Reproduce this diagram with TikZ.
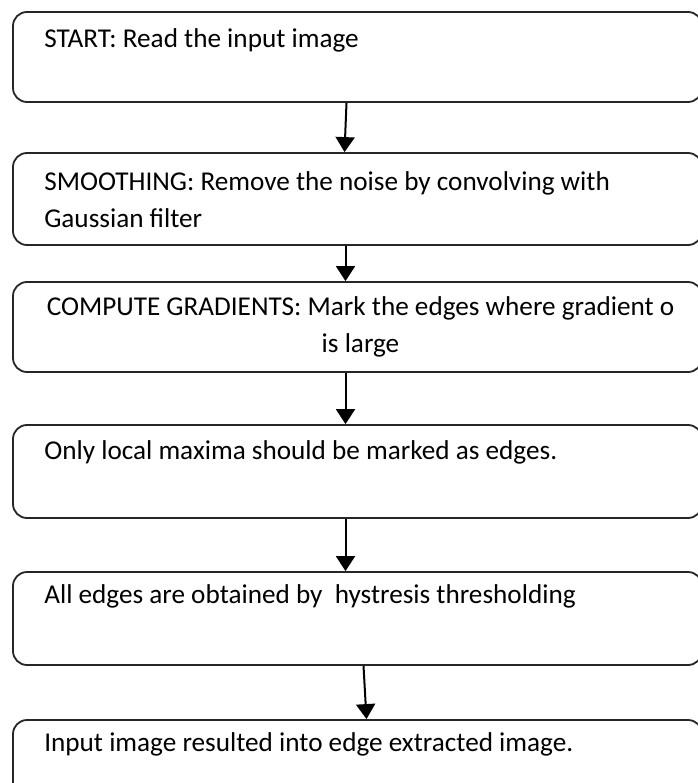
\documentclass[tikz,border=0pt]{standalone}
\usepackage{fontspec}
\setmainfont{Carlito}
\usetikzlibrary{positioning,calc,arrows.meta}

\tikzset{
  stepbox/.style={draw=black!85, line width=1.8pt, rounded corners=14pt,
    minimum width=689pt, inner sep=0pt},
  steptext/.style={anchor=north west, inner sep=0pt, align=left,
    font=\fontsize{27.2}{37}\selectfont},
  flow/.style={line width=2pt, -{Triangle[width=19pt,length=15pt]}}
}

\begin{document}
\begin{tikzpicture}[x=1pt,y=-1pt]
    \useasboundingbox (0,0) rectangle (697,783);

    % boxes
    \node[stepbox, minimum height=90pt] (b1) at (357.5,57) {};
    \node[stepbox, minimum height=92pt] (b2) at (357.5,199) {};
    \node[stepbox, minimum height=90pt] (b3) at (357.5,327) {};
    \node[stepbox, minimum height=93pt] (b4) at (357.5,471.5) {};
    \node[stepbox, minimum height=93pt] (b5) at (357.5,618.5) {};
    \node[stepbox, minimum height=100pt] (b6) at (357.5,770) {};

    % texts
    \node[steptext] (t1) at ($(b1.north west)+(32,10)$) {\strut START: Read the input image};
    \node[steptext] (t2) at ($(b2.north west)+(32,12)$) {\strut SMOOTHING: Remove the noise by convolving with\\Gaussian filter};
    \node[steptext, anchor=north, align=center] (t3) at ($(b3.north)+(3,8)$) {\strut COMPUTE GRADIENTS: Mark the edges where gradient o\\is large};
    \node[steptext] (t4) at ($(b4.north west)+(32,9)$) {\strut Only local maxima should be marked as edges.};
    \node[steptext] (t5) at ($(b5.north west)+(32,6)$) {\strut All edges are obtained by\ \ hystresis thresholding};
    \node[steptext] (t6) at ($(b6.north west)+(32,6)$) {\strut Input image resulted into edge extracted image.};

    % arrows
    \draw[flow] ([xshift=-11pt]b1.south) -- ([xshift=-13pt]b2.north);
    \draw[flow] ([xshift=-12pt]b2.south) -- ([xshift=-12pt]b3.north);
    \draw[flow] ([xshift=-12pt]b3.south) -- ([xshift=-12pt]b4.north);
    \draw[flow] ([xshift=-12pt]b4.south) -- ([xshift=-12pt]b5.north);
    \draw[flow] ([xshift=6pt]b5.south) -- ([xshift=9pt]b6.north);
\end{tikzpicture}
\end{document}
